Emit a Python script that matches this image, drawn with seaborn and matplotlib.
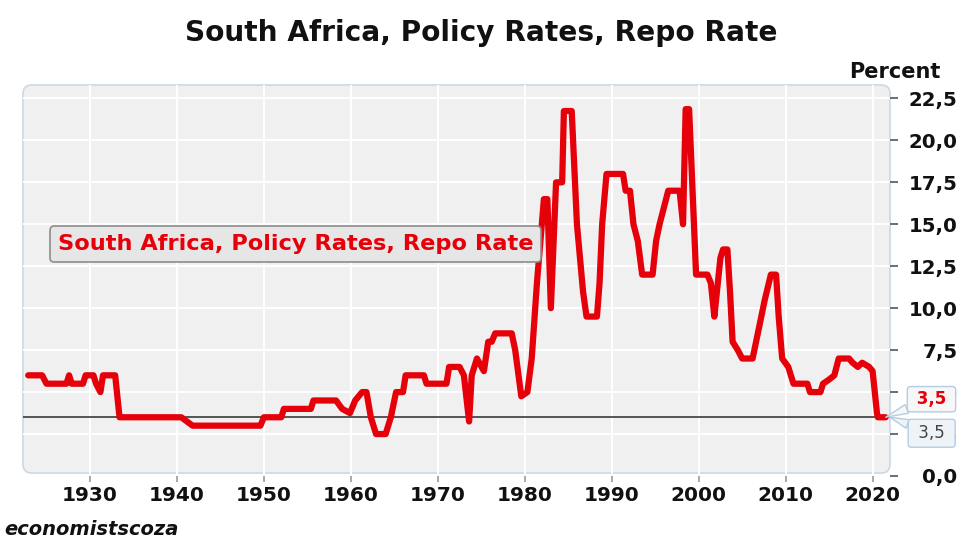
import matplotlib
matplotlib.use("Agg")
import matplotlib.pyplot as plt
from matplotlib.patches import FancyBboxPatch
import seaborn as sns
import pandas as pd

# ---- data ----
years = [1922.9, 1924.5, 1925.0, 1927.3, 1927.6, 1927.9, 1929.2, 1929.5, 1930.4, 1930.7,
         1931.2, 1931.5, 1932.9, 1933.4, 1940.5, 1941.8, 1949.6, 1950.0, 1952.0, 1952.3,
         1955.4, 1955.7, 1958.3, 1959.0, 1959.9, 1960.5, 1961.3, 1961.8, 1962.3, 1962.9,
         1964.0, 1964.6, 1965.2, 1966.0, 1966.3, 1968.4, 1968.7, 1971.0, 1971.3, 1972.5,
         1973.0, 1973.6, 1973.9, 1974.5, 1975.3, 1975.8, 1976.2, 1976.6, 1978.5, 1978.9,
         1979.6, 1980.3, 1980.8, 1981.4, 1981.8, 1982.2, 1982.6, 1983.0, 1983.6, 1984.3,
         1984.5, 1985.4, 1986.0, 1986.7, 1987.1, 1988.3, 1988.6, 1988.9, 1989.4, 1991.3,
         1991.6, 1992.1, 1992.5, 1993.0, 1993.5, 1994.7, 1995.1, 1995.5, 1996.0, 1996.5,
         1997.8, 1998.2, 1998.5, 1998.9, 1999.7, 2001.0, 2001.4,
         2001.8, 2002.1, 2002.5, 2002.8, 2003.3, 2003.6, 2003.9, 2004.5, 2005.0, 2006.2,
         2006.6, 2007.0, 2007.6, 2008.3, 2008.9, 2009.2, 2009.6, 2010.3, 2010.9, 2012.5,
         2012.8, 2014.0, 2014.3, 2015.0, 2015.6, 2016.1, 2017.3, 2017.7, 2018.3, 2018.8,
         2019.6, 2020.0, 2020.2, 2020.4, 2020.5, 2020.6, 2021.5]
repo_rate = [6.0, 6.0, 5.5, 5.5, 6.0, 5.5, 5.5, 6.0, 6.0, 5.5,
             5.0, 6.0, 6.0, 3.5, 3.5, 3.0, 3.0, 3.5, 3.5, 4.0,
             4.0, 4.5, 4.5, 4.0, 3.75, 4.5, 5.0, 5.0, 3.5, 2.5,
             2.5, 3.5, 5.0, 5.0, 6.0, 6.0, 5.5, 5.5, 6.5, 6.5,
             6.0, 3.25, 6.0, 7.0, 6.25, 8.0, 8.0, 8.5, 8.5, 7.5,
             4.75, 5.0, 7.0, 11.5, 14.0, 16.5, 16.5, 10.0, 17.5, 17.5,
             21.75, 21.75, 15.0, 11.0, 9.5, 9.5, 11.5, 15.0, 18.0, 18.0,
             17.0, 17.0, 15.0, 14.0, 12.0, 12.0, 14.0, 15.0, 16.0, 17.0,
             17.0, 15.0, 21.86, 21.86, 12.0, 12.0, 11.5,
             9.5, 11.0, 13.0, 13.5, 13.5, 11.0, 8.0, 7.5, 7.0, 7.0,
             8.0, 9.0, 10.5, 12.0, 12.0, 9.5, 7.0, 6.5, 5.5, 5.5,
             5.0, 5.0, 5.5, 5.75, 6.0, 7.0, 7.0, 6.75, 6.5, 6.75,
             6.5, 6.25, 5.25, 4.25, 3.75, 3.5, 3.5]
series_name = "South Africa, Policy Rates, Repo Rate"
reference_level = 3.5
x_ticks = [1930, 1940, 1950, 1960, 1970, 1980, 1990, 2000, 2010, 2020]
y_ticks = [0.0, 2.5, 5.0, 7.5, 10.0, 12.5, 15.0, 17.5, 20.0, 22.5]
y_tick_labels = ["0,0", "2,5", "5,0", "7,5", "10,0", "12,5", "15,0", "17,5", "20,0", "22,5"]

df = pd.DataFrame({"year": years, "rate": repo_rate})

RED = "#e5000a"
W, H = 962, 540

sns.set_theme(style="whitegrid")
plt.rcParams["font.family"] = ["DejaVu Sans"]
plt.rcParams["axes.unicode_minus"] = False

fig = plt.figure(figsize=(W / 100, H / 100), dpi=100)
fig.patch.set_facecolor("white")

L, R, T, B = 23, 890, 85, 476
ax = fig.add_axes([L / W, 1 - B / H, (R - L) / W, (B - T) / H])
ax.set_facecolor("none")

# rounded plot-area frame
frame = FancyBboxPatch((L / W, 1 - (B - 3) / H), (R - L) / W, (B - 3 - T) / H,
                       boxstyle="round,pad=0,rounding_size=0.009",
                       mutation_aspect=W / H, transform=fig.transFigure,
                       facecolor="#f0f0f0", edgecolor="#c9d9e8", linewidth=1.2,
                       zorder=-5)
fig.patches.append(frame)

sns.lineplot(data=df, x="year", y="rate", ax=ax, color=RED, linewidth=4.5,
             sort=False, estimator=None, label=series_name,
             solid_joinstyle="round", solid_capstyle="round", zorder=4)

ax.axhline(reference_level, color="#3a3a3a", linewidth=1.2, zorder=3)

ax.set_xlim(1922.3, 2022.0)
ax.set_ylim(0, 23.3)
ax.set_xticks(x_ticks)
ax.set_xticklabels([str(t) for t in x_ticks])
ax.set_yticks(y_ticks)
ax.set_yticklabels(y_tick_labels)
ax.set_xlabel("")
ax.set_ylabel("")
for s in ax.spines.values():
    s.set_visible(False)
ax.grid(True, color="white", linewidth=1.4)

ax.yaxis.tick_right()
ax.tick_params(axis="y", which="both", right=True, left=False, direction="out",
               length=6, width=1.2, color="#555555", pad=42.5,
               labelsize=14.2, labelcolor="#111111")
for lab in ax.get_yticklabels():
    lab.set_horizontalalignment("right")
    lab.set_fontweight("bold")
ax.tick_params(axis="x", bottom=True, direction="out", length=4, width=1.2,
               color="#999999", pad=3, labelsize=14.5, labelcolor="#111111")
for lab in ax.get_xticklabels():
    lab.set_fontweight("bold")

# legend-like label box
leg = ax.legend(loc="center left", bbox_to_anchor=(0.031, 0.593), borderaxespad=0,
                handlelength=0, handletextpad=0, borderpad=0.35, fancybox=True,
                framealpha=1, facecolor="#e6e6e6", edgecolor="#8c8c8c",
                prop={"size": 16.2, "weight": "bold"}, labelcolor=RED)
for h in leg.legend_handles:
    h.set_visible(False)
leg.get_frame().set_linewidth(1.2)

# end-value callouts
last_label = " " + f"{repo_rate[-1]:.1f}".replace(".", ",") + " "
ax.annotate(last_label, xy=(years[-1], repo_rate[-1]), xycoords="data",
            xytext=(33, 13), textcoords="offset points", ha="center", va="center",
            fontsize=12, fontweight="bold", color=RED, annotation_clip=False,
            bbox=dict(boxstyle="round,pad=0.22,rounding_size=0.2", fc="#f7f7f7",
                      ec="#b5cde2", lw=1.0),
            arrowprops=dict(arrowstyle="wedge,tail_width=0.55,shrink_factor=0.5",
                            fc="#f7f7f7", ec="#b5cde2", lw=1.0, shrinkA=0, shrinkB=0),
            zorder=10)
ref_label = " " + f"{reference_level:.1f}".replace(".", ",") + " "
ax.annotate(ref_label, xy=(1.0, reference_level), xycoords=("axes fraction", "data"),
            xytext=(30, -11.5), textcoords="offset points", ha="center", va="center",
            fontsize=12, color="#444444", annotation_clip=False,
            bbox=dict(boxstyle="round,pad=0.3,rounding_size=0.2", fc="#eef3f8",
                      ec="#b5cde2", lw=1.0),
            arrowprops=dict(arrowstyle="wedge,tail_width=0.55,shrink_factor=0.5",
                            fc="#eef3f8", ec="#b5cde2", lw=1.0, shrinkA=0, shrinkB=0),
            zorder=9)

# texts
fig.text(0.5, 1 - 33 / H, series_name, ha="center", va="center",
         fontsize=20.2, fontweight="bold", color="#111111")
fig.text(941 / W, 1 - 72 / H, "Percent", ha="right", va="center",
         fontsize=15, fontweight="bold", color="#111111")
fig.text(4 / W, 5 / H, "economistscoza", ha="left", va="baseline",
         fontsize=14, fontweight="bold", style="italic", color="#111111")

fig.savefig("out.png", dpi=100)
